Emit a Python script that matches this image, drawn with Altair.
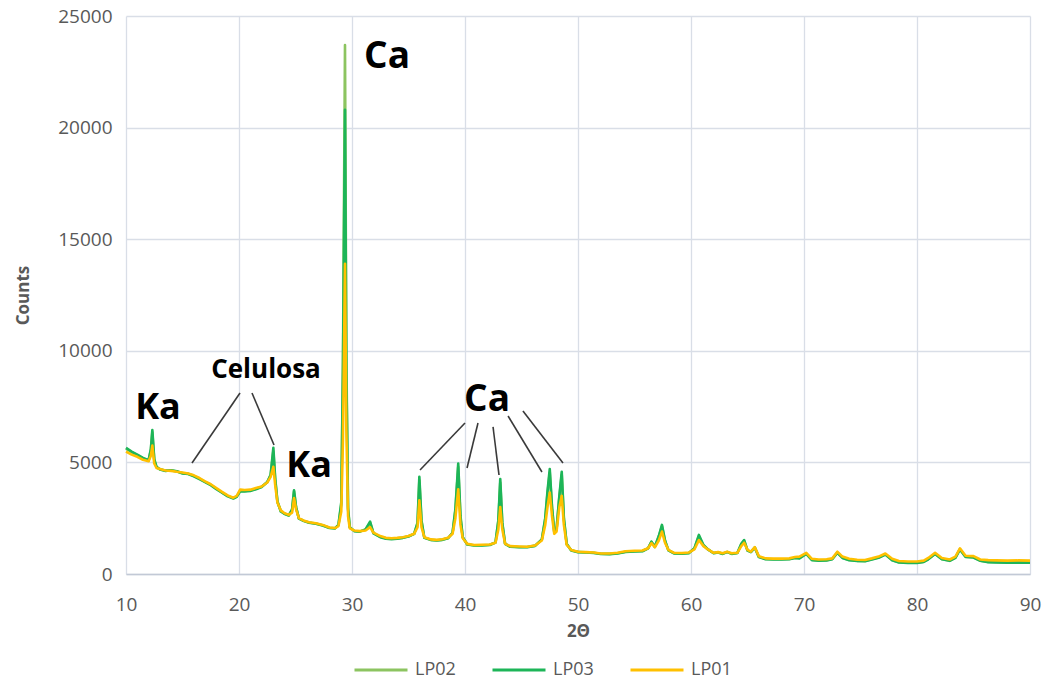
import altair as alt
import pandas as pd

# Diffraction angle (degrees 2-theta) shared by the three patterns
two_theta = [
    10.0, 10.5, 11.0, 11.5, 12.0, 12.2, 12.33, 12.5, 12.7, 13.0, 13.5, 14.0, 14.5, 15.0, 15.5,
    16.0, 16.5, 17.0, 17.5, 18.0, 18.5, 19.0, 19.5, 19.8, 20.1, 20.5, 21.0, 21.5, 22.0, 22.5,
    22.8, 23.04, 23.2, 23.4, 23.7, 24.0, 24.4, 24.7, 24.87, 25.05, 25.3, 25.7, 26.2, 26.8, 27.4,
    28.0, 28.5, 28.8, 29.05, 29.2, 29.38, 29.5, 29.65, 29.8, 30.2, 30.7, 31.2, 31.6, 31.9, 32.5,
    33.0, 33.5, 34.0, 34.5, 35.0, 35.5, 35.8, 35.96, 36.15, 36.4, 37.0, 37.5, 38.0, 38.5, 38.9,
    39.15, 39.4, 39.6, 39.8, 40.2, 40.8, 41.5, 42.2, 42.7, 42.95, 43.12, 43.3, 43.55, 44.0, 44.8,
    45.5, 46.2, 46.8, 47.1, 47.3, 47.5, 47.7, 47.9, 48.1, 48.35, 48.56, 48.75, 49.0, 49.4, 50.0,
    50.7, 51.4, 52.0, 52.8, 53.5, 54.2, 55.0, 55.7, 56.2, 56.5, 56.8, 57.15, 57.43, 57.7, 58.0,
    58.5, 59.2, 59.8, 60.3, 60.7, 61.1, 61.5, 62.0, 62.4, 62.8, 63.2, 63.6, 64.1, 64.45, 64.7,
    65.0, 65.3, 65.65, 66.0, 66.6, 67.3, 68.0, 68.7, 69.2, 69.6, 70.2, 70.7, 71.3, 72.0, 72.5,
    72.95, 73.4, 74.0, 74.7, 75.4, 76.0, 76.6, 77.2, 77.8, 78.4, 79.2, 80.0, 80.6, 81.0, 81.6,
    82.2, 82.9, 83.4, 83.8, 84.3, 85.0, 85.6, 86.3, 87.0, 88.0, 89.0, 90.0,
]

lp01 = [
    5480, 5350, 5250, 5120, 5050, 5300, 5750, 4950, 4750, 4700, 4640, 4620, 4580, 4550, 4500,
    4420, 4300, 4150, 4020, 3850, 3680, 3520, 3420, 3500, 3780, 3760, 3780, 3850, 3920, 4100,
    4350, 4800, 4000, 3200, 2850, 2730, 2650, 2750, 3400, 2900, 2500, 2400, 2320, 2270, 2200,
    2080, 2060, 2150, 2800, 6000, 13900, 6500, 2600, 2050, 1950, 1920, 1950, 2100, 1850, 1700,
    1620, 1600, 1620, 1650, 1700, 1800, 2100, 3300, 2100, 1650, 1550, 1530, 1560, 1620, 1800,
    2500, 3800, 2200, 1600, 1350, 1300, 1310, 1320, 1400, 2000, 3000, 2000, 1350, 1250, 1230,
    1220, 1280, 1500, 2200, 3000, 3650, 2600, 1800, 1900, 3000, 3500, 2200, 1300, 1080, 1000,
    980, 960, 920, 920, 950, 1020, 1040, 1050, 1150, 1380, 1200, 1500, 1900, 1400, 1080,
    950, 940, 960, 1100, 1520, 1250, 1100, 950, 980, 930, 1000, 930, 950, 1250, 1400,
    1080, 1000, 1200, 800, 700, 690, 690, 700, 760, 780, 950, 680, 650, 660, 700,
    1000, 780, 680, 640, 630, 700, 780, 920, 680, 580, 560, 560, 600, 720, 950,
    720, 650, 780, 1150, 820, 800, 650, 620, 610, 600, 610, 600,
]

lp03 = [
    5650, 5480, 5350, 5200, 5100, 5600, 6450, 5150, 4800, 4680, 4620, 4650, 4600, 4500, 4480,
    4380, 4250, 4120, 3980, 3800, 3640, 3480, 3380, 3460, 3700, 3700, 3720, 3800, 3900, 4120,
    4450, 5650, 4300, 3250, 2800, 2700, 2620, 2900, 3750, 3000, 2480, 2380, 2300, 2250, 2170,
    2060, 2040, 2200, 3200, 9000, 20800, 9000, 2900, 2100, 1920, 1900, 2000, 2350, 1820, 1650,
    1580, 1560, 1580, 1620, 1680, 1800, 2300, 4350, 2400, 1620, 1520, 1500, 1530, 1600, 1850,
    2900, 4950, 2600, 1650, 1320, 1280, 1280, 1300, 1420, 2400, 4250, 2300, 1350, 1220, 1200,
    1200, 1260, 1550, 2500, 3700, 4700, 3000, 1900, 2000, 3500, 4580, 2500, 1350, 1050, 980,
    960, 940, 900, 890, 920, 990, 1010, 1020, 1150, 1450, 1220, 1700, 2200, 1500, 1060,
    920, 910, 930, 1150, 1750, 1300, 1100, 930, 960, 900, 980, 900, 940, 1350, 1520,
    1050, 980, 1180, 760, 660, 650, 650, 660, 720, 700, 900, 620, 600, 610, 660,
    950, 720, 620, 580, 570, 650, 730, 870, 620, 520, 500, 500, 540, 660, 900,
    660, 590, 720, 1100, 760, 740, 590, 530, 520, 510, 510, 510,
]

lp02 = [
    5620, 5460, 5330, 5190, 5080, 5550, 6350, 5100, 4790, 4700, 4630, 4640, 4590, 4520, 4490,
    4400, 4270, 4130, 4000, 3820, 3650, 3500, 3400, 3480, 3720, 3720, 3740, 3820, 3910, 4110,
    4420, 5500, 4250, 3240, 2820, 2710, 2630, 2880, 3700, 2980, 2490, 2390, 2310, 2260, 2180,
    2070, 2050, 2190, 3100, 9500, 23700, 9800, 3000, 2100, 1930, 1910, 1990, 2300, 1830, 1670,
    1600, 1580, 1600, 1630, 1690, 1800, 2250, 4200, 2350, 1630, 1530, 1510, 1540, 1610, 1840,
    2850, 4800, 2500, 1640, 1330, 1290, 1290, 1310, 1410, 2350, 4100, 2250, 1350, 1230, 1210,
    1210, 1270, 1540, 2450, 3600, 4550, 2950, 1880, 1990, 3450, 4450, 2450, 1340, 1060, 990,
    970, 950, 910, 900, 930, 1000, 1020, 1030, 1150, 1440, 1210, 1680, 2150, 1480, 1070,
    930, 920, 940, 1140, 1700, 1290, 1100, 940, 970, 910, 990, 910, 940, 1330, 1500,
    1060, 990, 1190, 770, 670, 660, 660, 670, 730, 720, 910, 640, 610, 620, 670,
    960, 730, 630, 590, 580, 660, 740, 880, 630, 530, 510, 510, 550, 670, 910,
    670, 600, 730, 1110, 770, 750, 600, 540, 530, 520, 520, 520,
]

samples = ["LP02", "LP03", "LP01"]
sample_colors = ["#8cc460", "#1db558", "#ffc000"]

rows = []
for name, vals in zip(samples, [lp02, lp03, lp01]):
    for t, c in zip(two_theta, vals):
        rows.append({"angle": t, "counts": c, "sample": name})
patterns = pd.DataFrame(rows)

# Phase labels (Ka = kaolinite, Ca = calcite) and the cellulose band
label_text = ["Ka", "Celulosa", "Ka", "Ca", "Ca"]
label_x = [12.83, 22.39, 26.2, 33.1, 41.95]
label_y = [7450, 9140, 4840, 23150, 7800]
label_size = [36, 26, 36, 37, 37]
labels = pd.DataFrame({"text": label_text, "x": label_x, "y": label_y, "fs": label_size})

# Leader lines from each label to the peaks it names
lead_x = [20.09, 21.15, 40.0, 41.15, 42.48, 43.81, 45.13]
lead_y = [8110, 8110, 6765, 6765, 6590, 7080, 7300]
lead_x2 = [15.84, 23.1, 36.02, 40.18, 43.01, 46.81, 48.67]
lead_y2 = [4970, 5780, 4660, 4750, 4435, 4570, 4970]
leaders = pd.DataFrame({"x": lead_x, "y": lead_y, "x2": lead_x2, "y2": lead_y2})

font = "Open Sans"
axis_grey = "#595959"

x_enc = alt.X(
    "angle:Q",
    scale=alt.Scale(domain=[10, 90], nice=False, zero=False),
    axis=alt.Axis(
        values=[10, 20, 30, 40, 50, 60, 70, 80, 90],
        format="d",
        title="2Θ",
        titleFontSize=17,
        titleFontWeight="bold",
        titleColor=axis_grey,
        titlePadding=9,
        labelFontSize=19,
        labelColor=axis_grey,
        labelPadding=21,
        labelFlush=False,
        labelOverlap=False,
        ticks=False,
        grid=True,
        gridColor="#d9dee7",
        gridWidth=1.3,
        domain=True,
        domainColor="#c2c9d6",
        domainWidth=1.6,
    ),
)
y_enc = alt.Y(
    "counts:Q",
    scale=alt.Scale(domain=[0, 25000], nice=False),
    axis=alt.Axis(
        values=[0, 5000, 10000, 15000, 20000, 25000],
        format="d",
        title="Counts",
        titleFontSize=17,
        titleFontWeight="bold",
        titleColor=axis_grey,
        titlePadding=25,
        labelFontSize=19,
        labelColor=axis_grey,
        labelPadding=14,
        ticks=False,
        grid=True,
        gridColor="#d9dee7",
        gridWidth=1.3,
        domain=False,
    ),
)

color_enc = alt.Color(
    "sample:N",
    scale=alt.Scale(domain=samples, range=sample_colors),
    legend=alt.Legend(
        title=None,
        orient="none",
        direction="horizontal",
        legendX=227,
        legendY=626,
        symbolType="stroke",
        symbolSize=2809,
        symbolStrokeWidth=3,
        labelFontSize=18,
        labelColor=axis_grey,
        labelOffset=6,
        columnPadding=30,
        padding=0,
    ),
)

line_layers = [
    alt.Chart(patterns)
    .transform_filter(alt.datum.sample == name)
    .mark_line(strokeWidth=2.6, strokeJoin="round")
    .encode(x=x_enc, y=y_enc, color=color_enc)
    for name in samples
]

leader_layer = (
    alt.Chart(leaders)
    .mark_rule(color="#3a3a3a", strokeWidth=1.6)
    .encode(x="x:Q", y="y:Q", x2="x2:Q", y2="y2:Q")
)

label_layer = (
    alt.Chart(labels)
    .mark_text(font=font, fontWeight="bold", color="#000000", baseline="middle", align="center")
    .encode(
        x="x:Q",
        y="y:Q",
        text="text:N",
        size=alt.Size("fs:Q", scale=None, legend=None),
    )
)

chart = (
    alt.layer(*line_layers, leader_layer, label_layer)
    .properties(
        width=904,
        height=558,
        autosize=alt.AutoSizeParams(type="none"),
        padding={"left": 126, "top": 16, "right": 17, "bottom": 105},
    )
    .configure(font=font, background="#ffffff")
    .configure_view(stroke=None)
)

chart.save("out.html", embed_options={"renderer": "svg", "actions": False})
